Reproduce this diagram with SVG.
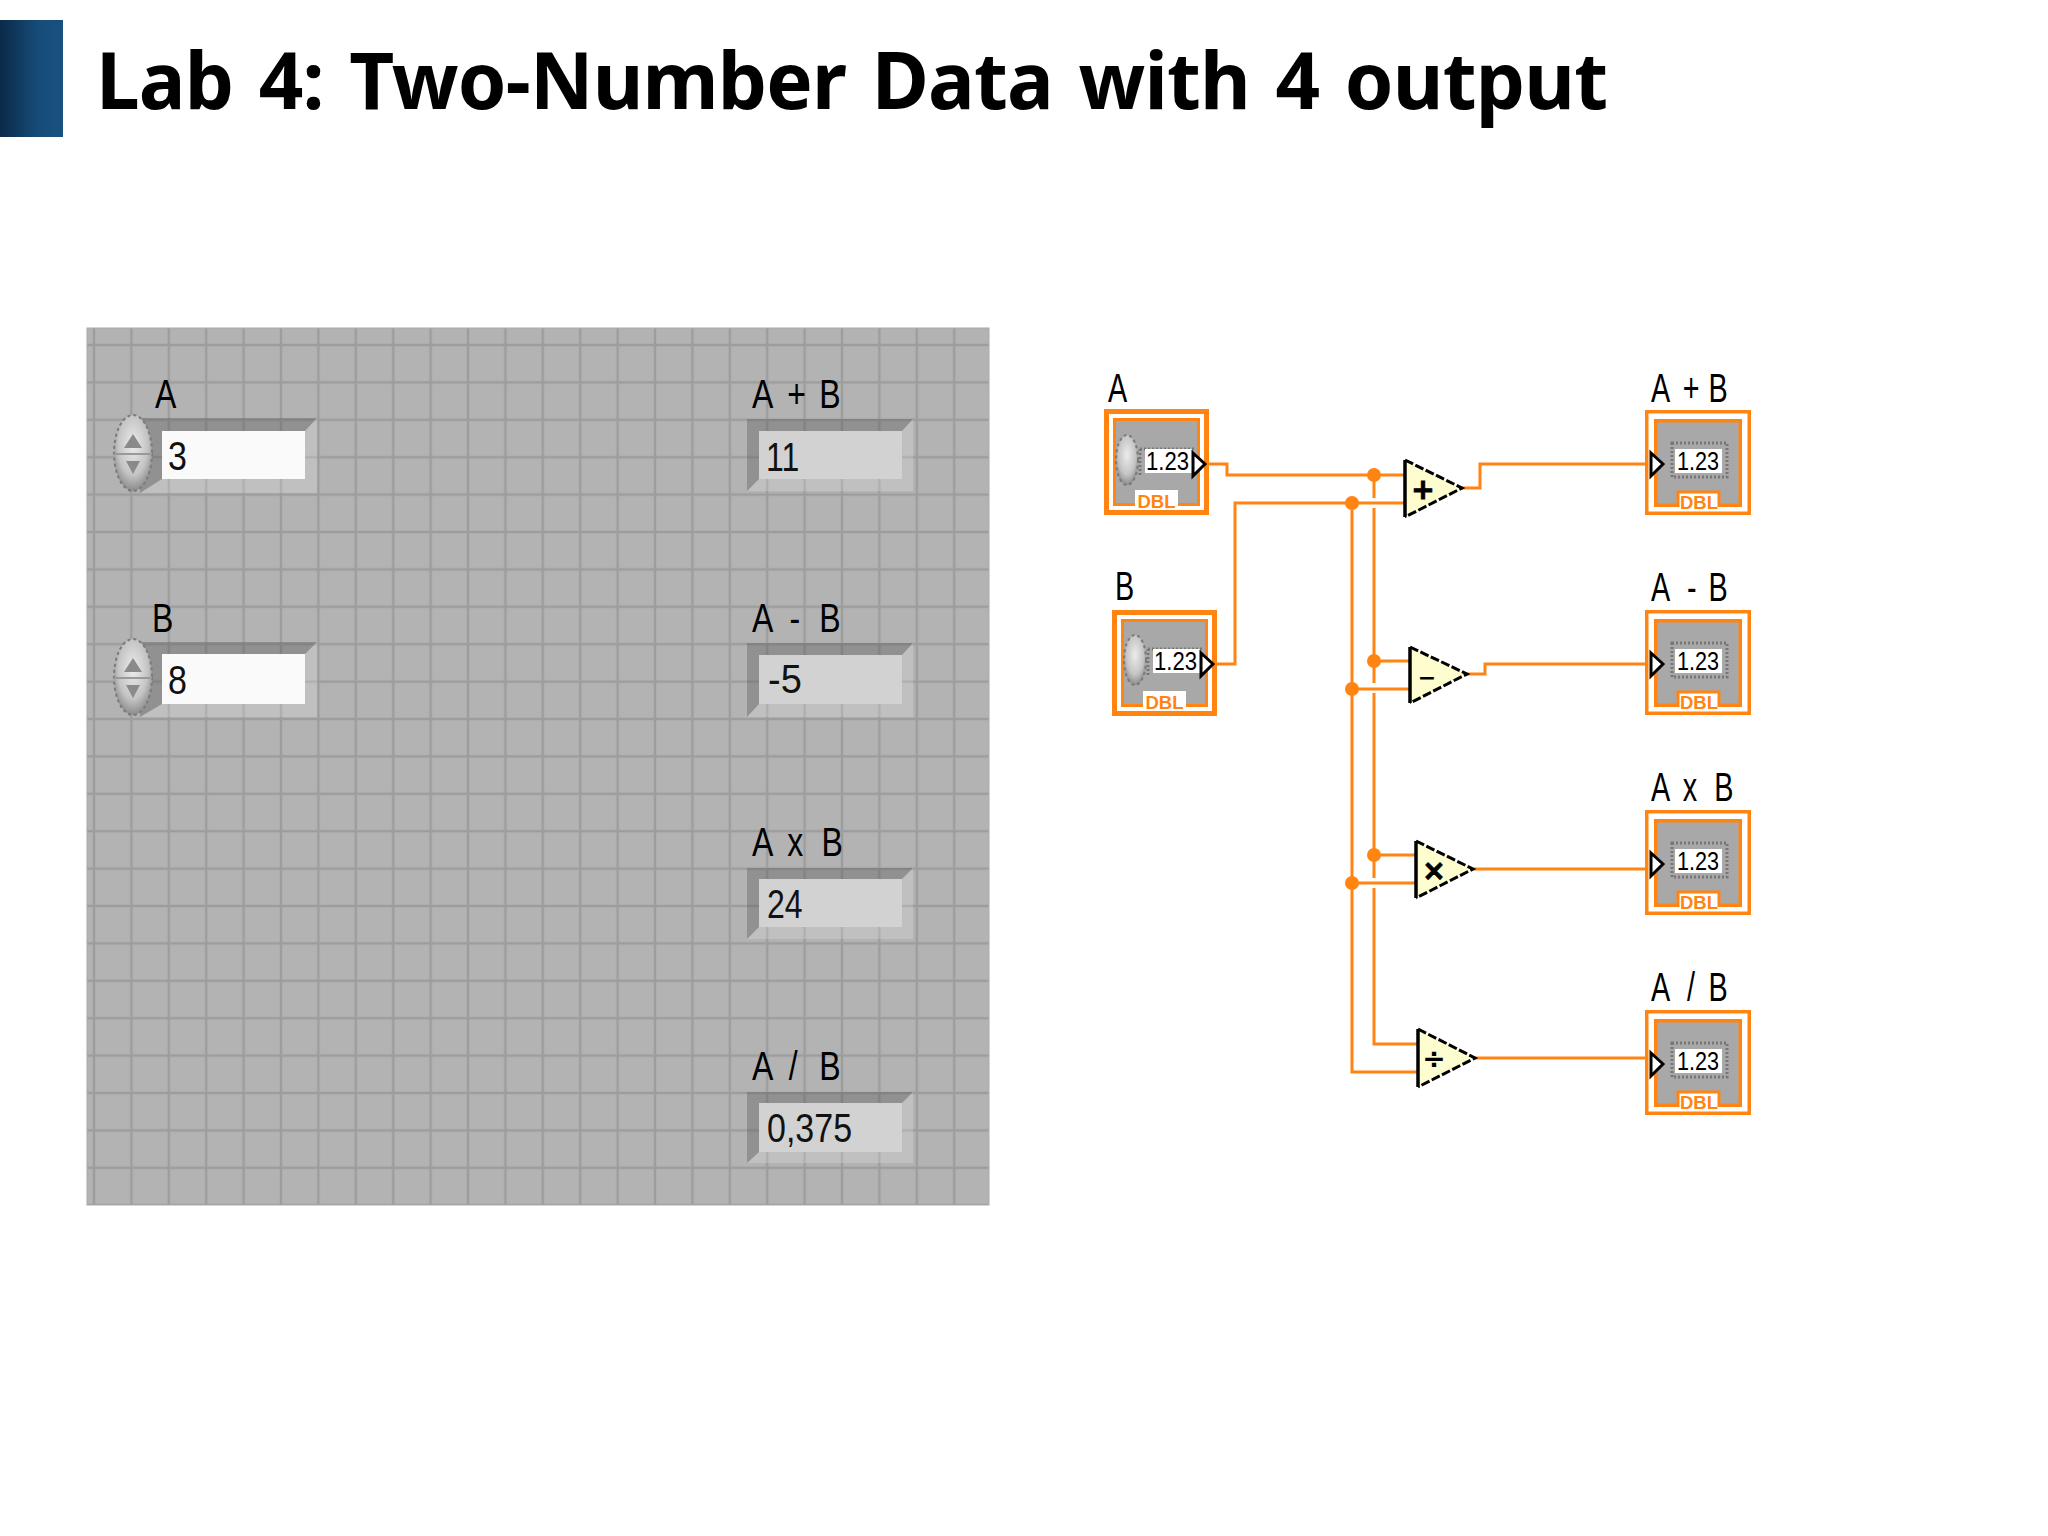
<svg xmlns="http://www.w3.org/2000/svg" width="2048" height="1536" viewBox="0 0 2048 1536">
<style>
.t{font-family:"Liberation Sans",Arial,sans-serif;fill:#000;font-size:40px}
.v{font-family:"Liberation Sans",Arial,sans-serif;fill:#111;font-size:40px}
.n{font-family:"Liberation Sans",Arial,sans-serif;fill:#000;font-size:25px}
.d{font-family:"Liberation Sans",Arial,sans-serif;fill:#ff8412;font-size:18px;font-weight:700;text-anchor:middle}
.s{font-family:"DejaVu Sans",sans-serif;fill:#000;font-weight:700;font-size:28px;text-anchor:middle}
.w{fill:none;stroke:#ff8412;stroke-width:3}
.dot{fill:#ff8412}
.o{fill:#ff8412}
.wh{fill:#fff}
.g{fill:#a8a8a8}
.tabl{fill:none;stroke:#ff8412;stroke-width:3}
.tri{fill:#fdfdd0}
.edge{fill:none;stroke:#000;stroke-width:3.500}
.slant{fill:none;stroke:#000;stroke-width:3;stroke-dasharray:9 2.500}
.term{fill:#fff;stroke:#000;stroke-width:3}
.dash{fill:none;stroke:#777;stroke-width:3;stroke-dasharray:2 2}
.ctl{fill:#fafafa}
.ind{fill:#d2d2d2}
.bt{fill:#5a5a5a;fill-opacity:.38}
.bl{fill:#e6e6e6;fill-opacity:.25}
.ar{fill:#8a8a8a}
.mot{stroke:#7a7a7a;stroke-width:2;stroke-dasharray:3 3}
</style>
<defs>
<linearGradient id="bar" x1="0" x2="1" y1="0" y2="0"><stop offset="0" stop-color="#0b2a49"/><stop offset=".6" stop-color="#164c79"/><stop offset="1" stop-color="#18517f"/></linearGradient>
<radialGradient id="spin" cx=".5" cy=".4" r=".65"><stop offset="0" stop-color="#ececec"/><stop offset=".6" stop-color="#c4c4c4"/><stop offset="1" stop-color="#7d7d7d"/></radialGradient>
<pattern id="grid" x="94" y="345" width="37.4" height="37.4" patternUnits="userSpaceOnUse">
<rect width="37.4" height="37.4" fill="#b3b3b3"/>
<rect x="-1.200" width="2.400" height="37.4" fill="#9d9d9d"/><rect x="36.200" width="2.400" height="37.4" fill="#9d9d9d"/>
<rect y="-1.200" width="37.4" height="2.400" fill="#9d9d9d"/><rect y="36.200" width="37.4" height="2.400" fill="#9d9d9d"/>
</pattern>
</defs>
<rect width="2048" height="1536" fill="#fff"/>
<g id="title">
<rect x="0" y="20" width="63" height="117" fill="url(#bar)"/>
<text x="96" y="109" font-family="'Noto Sans','Noto Sans CJK KR',sans-serif" font-weight="700" font-size="78" fill="#000" textLength="1512" lengthAdjust="spacing" word-spacing="6">Lab 4: Two-Number Data with 4 output</text>
</g>
<g id="front-panel">
<rect x="87" y="328" width="902" height="877" fill="url(#grid)" stroke="#aaa" stroke-width="1"/>
</g>
<g id="control-A">
<polygon class="bt" points="140,418 317,418 305,431 162,431 162,479 140,493"/>
<polygon class="bl" points="317,418 317,493 140,493 162,479 305,479 305,431"/>
<rect class="ctl" x="162" y="431" width="143" height="48"/>
<ellipse cx="133" cy="453" rx="19" ry="38" fill="url(#spin)" class="mot"/>
<line x1="114" y1="454" x2="152" y2="454" stroke="#999" stroke-width="2"/>
<polygon class="ar" points="133,434 124,448 142,448"/><polygon class="ar" points="126,461 140,461 133,474"/>
<text class="t" transform="translate(155,408) scale(.8,1)">A</text>
<text class="v" transform="translate(168,470) scale(.85,1)">3</text>
</g>
<g id="control-B">
<polygon class="bt" points="140,642 317,642 305,654 162,654 162,704 140,717"/>
<polygon class="bl" points="317,642 317,717 140,717 162,704 305,704 305,654"/>
<rect class="ctl" x="162" y="654" width="143" height="50"/>
<ellipse cx="133" cy="677" rx="19" ry="38" fill="url(#spin)" class="mot"/>
<line x1="114" y1="678" x2="152" y2="678" stroke="#999" stroke-width="2"/>
<polygon class="ar" points="133,658 124,672 142,672"/><polygon class="ar" points="126,685 140,685 133,698"/>
<text class="t" transform="translate(152,632) scale(.8,1)">B</text>
<text class="v" transform="translate(168,694) scale(.85,1)">8</text>
</g>
<g id="ind-sum">
<polygon class="bt" points="747,419 913,419 902,431 759,431 759,479 747,491"/>
<polygon class="bl" points="913,419 913,491 747,491 759,479 902,479 902,431"/>
<rect class="ind" x="759" y="431" width="143" height="48"/>
<text class="t" transform="translate(752,408) scale(.8,1)" x="0 30 44 70 84">A + B</text>
<text class="v" transform="translate(766,471) scale(.8,1)">11</text>
</g>
<g id="ind-diff">
<polygon class="bt" points="747,643 913,643 902,655 759,655 759,704 747,717"/>
<polygon class="bl" points="913,643 913,717 747,717 759,704 902,704 902,655"/>
<rect class="ind" x="759" y="655" width="143" height="49"/>
<text class="t" transform="translate(752,632) scale(.8,1)" x="0 30 47 70 84">A - B</text>
<text class="v" transform="translate(768,693) scale(.95,1)">-5</text>
</g>
<g id="ind-prod">
<polygon class="bt" points="747,868 913,868 902,879 759,879 759,927 747,939"/>
<polygon class="bl" points="913,868 913,939 747,939 759,927 902,927 902,879"/>
<rect class="ind" x="759" y="879" width="143" height="48"/>
<text class="t" transform="translate(752,856) scale(.8,1)" x="0 30 44 70 87">A x B</text>
<text class="v" transform="translate(767,918) scale(.8,1)">24</text>
</g>
<g id="ind-quot">
<polygon class="bt" points="747,1092 913,1092 902,1103 759,1103 759,1152 747,1163"/>
<polygon class="bl" points="913,1092 913,1163 747,1163 759,1152 902,1152 902,1103"/>
<rect class="ind" x="759" y="1103" width="143" height="49"/>
<text class="t" transform="translate(752,1080) scale(.8,1)" x="0 30 46 70 84">A / B</text>
<text class="v" transform="translate(767,1142) scale(.85,1)">0,375</text>
</g>
<g id="connectors">
<path class="w" d="M1205 464H1227V475H1405"/>
<path class="w" d="M1214 664H1235V503H1405"/>
<path class="w" d="M1352 503V1072H1418"/>
<path class="w" d="M1374 475V498M1374 508V683M1374 693V878M1374 888V1044H1418"/>
<path class="w" d="M1374 661H1410M1352 689H1410M1374 855H1416M1352 883H1416"/>
<path class="w" d="M1462 488H1480V464H1647"/>
<path class="w" d="M1467 674H1485V664H1647"/>
<path class="w" d="M1473 869H1647"/>
<path class="w" d="M1475 1058H1647"/>
<circle class="dot" cx="1374" cy="475" r="7"/><circle class="dot" cx="1352" cy="503" r="7"/>
<circle class="dot" cx="1374" cy="661" r="7"/><circle class="dot" cx="1352" cy="689" r="7"/>
<circle class="dot" cx="1374" cy="855" r="7"/><circle class="dot" cx="1352" cy="883" r="7"/>
</g>
<g id="term-A" transform="translate(1104,409)">
<rect class="o" width="105" height="106"/><rect class="wh" x="5" y="5" width="95" height="96"/><rect class="o" x="9" y="9" width="87" height="88"/><rect class="g" x="12" y="12" width="81" height="82"/>
<rect class="wh" x="31" y="81" width="43" height="20"/>
<text class="d" x="52.500" y="99" textLength="38" lengthAdjust="spacingAndGlyphs">DBL</text>
<ellipse cx="23" cy="51" rx="11" ry="25" fill="url(#spin)" class="mot"/>
<path class="dash" d="M36 40H92M36 40V68"/>
<rect class="wh" x="41" y="40" width="47" height="24"/>
<text class="n" x="42" y="61" textLength="43" lengthAdjust="spacingAndGlyphs">1.23</text>
<polygon class="term" points="89,44 101,55 89,67"/>
</g>
<g id="term-B" transform="translate(1112,610)">
<rect class="o" width="105" height="106"/><rect class="wh" x="5" y="5" width="95" height="96"/><rect class="o" x="9" y="9" width="87" height="88"/><rect class="g" x="12" y="12" width="81" height="82"/>
<rect class="wh" x="31" y="81" width="43" height="20"/>
<text class="d" x="52.500" y="99" textLength="38" lengthAdjust="spacingAndGlyphs">DBL</text>
<ellipse cx="23" cy="50" rx="11" ry="25" fill="url(#spin)" class="mot"/>
<path class="dash" d="M36 39H92M36 39V67"/>
<rect class="wh" x="41" y="39" width="47" height="24"/>
<text class="n" x="42" y="60" textLength="43" lengthAdjust="spacingAndGlyphs">1.23</text>
<polygon class="term" points="89,43 101,54 89,66"/>
</g>
<g id="label-A"><text class="t" transform="translate(1108,402) scale(.72,1)">A</text></g>
<g id="label-B"><text class="t" transform="translate(1115,600) scale(.72,1)">B</text></g>
<g id="add">
<polygon class="tri" points="1405,460 1462,488 1405,517"/>
<path class="edge" d="M1405 460V517"/><path class="slant" d="M1405 460L1462 488L1405 517"/>
<text class="s" x="1423" y="499" stroke="#000" stroke-width="1">+</text>
</g>
<g id="sub">
<polygon class="tri" points="1410,647 1467,674 1410,703"/>
<path class="edge" d="M1410 647V703"/><path class="slant" d="M1410 647L1467 674L1410 703"/>
<text class="s" x="1427" y="685" style="font-size:22px">−</text>
</g>
<g id="mul">
<polygon class="tri" points="1416,841 1473,869 1416,898"/>
<path class="edge" d="M1416 841V898"/><path class="slant" d="M1416 841L1473 869L1416 898"/>
<text class="s" x="1434" y="880" stroke="#000" stroke-width="1">×</text>
</g>
<g id="div">
<polygon class="tri" points="1418,1029 1475,1058 1418,1087"/>
<path class="edge" d="M1418 1029V1087"/><path class="slant" d="M1418 1029L1475 1058L1418 1087"/>
<text class="s" x="1434" y="1068">÷</text>
</g>
<g id="out-sum" transform="translate(1645,410)">
<rect class="o" width="106" height="105"/><rect class="wh" x="3.500" y="3.500" width="99" height="98"/><rect class="o" x="9" y="9" width="88" height="88"/><rect class="g" x="12.500" y="12.500" width="81" height="81"/>
<rect class="wh" x="33" y="82" width="41" height="19"/><path class="tabl" d="M33 97V82H74V97"/>
<text class="d" x="54" y="99" textLength="38" lengthAdjust="spacingAndGlyphs">DBL</text>
<rect class="dash" x="27" y="33" width="55" height="34"/>
<rect class="wh" x="30" y="39" width="47" height="24"/>
<text class="n" x="32" y="60" textLength="42" lengthAdjust="spacingAndGlyphs">1.23</text>
<polygon class="term" points="6,43 18,54 6,66"/>
</g>
<g id="out-diff" transform="translate(1645,610)">
<rect class="o" width="106" height="105"/><rect class="wh" x="3.500" y="3.500" width="99" height="98"/><rect class="o" x="9" y="9" width="88" height="88"/><rect class="g" x="12.500" y="12.500" width="81" height="81"/>
<rect class="wh" x="33" y="82" width="41" height="19"/><path class="tabl" d="M33 97V82H74V97"/>
<text class="d" x="54" y="99" textLength="38" lengthAdjust="spacingAndGlyphs">DBL</text>
<rect class="dash" x="27" y="33" width="55" height="34"/>
<rect class="wh" x="30" y="39" width="47" height="24"/>
<text class="n" x="32" y="60" textLength="42" lengthAdjust="spacingAndGlyphs">1.23</text>
<polygon class="term" points="6,43 18,54 6,66"/>
</g>
<g id="out-prod" transform="translate(1645,810)">
<rect class="o" width="106" height="105"/><rect class="wh" x="3.500" y="3.500" width="99" height="98"/><rect class="o" x="9" y="9" width="88" height="88"/><rect class="g" x="12.500" y="12.500" width="81" height="81"/>
<rect class="wh" x="33" y="82" width="41" height="19"/><path class="tabl" d="M33 97V82H74V97"/>
<text class="d" x="54" y="99" textLength="38" lengthAdjust="spacingAndGlyphs">DBL</text>
<rect class="dash" x="27" y="33" width="55" height="34"/>
<rect class="wh" x="30" y="39" width="47" height="24"/>
<text class="n" x="32" y="60" textLength="42" lengthAdjust="spacingAndGlyphs">1.23</text>
<polygon class="term" points="6,43 18,54 6,66"/>
</g>
<g id="out-quot" transform="translate(1645,1010)">
<rect class="o" width="106" height="105"/><rect class="wh" x="3.500" y="3.500" width="99" height="98"/><rect class="o" x="9" y="9" width="88" height="88"/><rect class="g" x="12.500" y="12.500" width="81" height="81"/>
<rect class="wh" x="33" y="82" width="41" height="19"/><path class="tabl" d="M33 97V82H74V97"/>
<text class="d" x="54" y="99" textLength="38" lengthAdjust="spacingAndGlyphs">DBL</text>
<rect class="dash" x="27" y="33" width="55" height="34"/>
<rect class="wh" x="30" y="39" width="47" height="24"/>
<text class="n" x="32" y="60" textLength="42" lengthAdjust="spacingAndGlyphs">1.23</text>
<polygon class="term" points="6,43 18,54 6,66"/>
</g>
<g id="labels-out">
<text class="t" transform="translate(1651,402) scale(.72,1)" x="0 28 44 72 80">A + B</text>
<text class="t" transform="translate(1651,601) scale(.72,1)" x="0 28 50 72 80">A - B</text>
<text class="t" transform="translate(1651,801) scale(.72,1)" x="0 28 44 72 88">A x B</text>
<text class="t" transform="translate(1651,1001) scale(.72,1)" x="0 28 50 72 80">A / B</text>
</g>
</svg>
